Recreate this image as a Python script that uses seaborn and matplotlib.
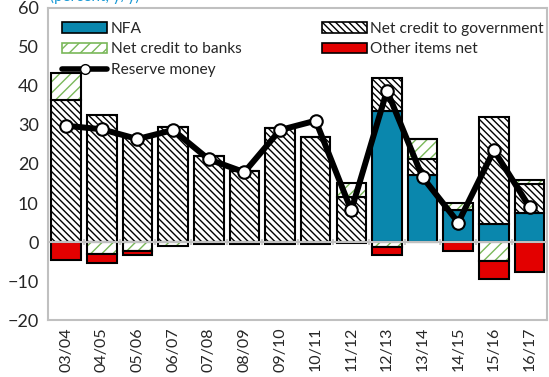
import numpy as np
import pandas as pd
import matplotlib
matplotlib.use("Agg")
import matplotlib.pyplot as plt
import seaborn as sns
from matplotlib.patches import Patch
from matplotlib.lines import Line2D

# ------------------------------------------
# DATA
# ------------------------------------------
years = ["03/04", "04/05", "05/06", "06/07", "07/08", "08/09", "09/10",
         "10/11", "11/12", "12/13", "13/14", "14/15", "15/16", "16/17"]

nfa = [0, 0, 0, 0, 0, 0, 0, 0, 0, 33.5, 17.2, 8.3, 4.5, 7.4]
credit_gov = [36.4, 32.6, 27.0, 29.6, 22.0, 18.1, 29.2, 27.0, 11.5, 8.5, 4.2, 0, 27.6, 7.6]
credit_banks = [6.9, -3.1, -2.2, -1.0, 0, 0, 0, 0, 3.7, -1.4, 5.1, 1.7, -4.9, 0.8]
other_items = [-4.5, -2.2, -1.1, 0, -0.6, -0.6, -0.5, -0.6, -0.3, -1.8, 0, -2.3, -4.7, -7.8]
reserve_money = [29.8, 28.9, 26.4, 28.7, 21.2, 17.9, 28.7, 31.1, 8.1, 38.8, 16.6, 5.0, 23.5, 9.0]

NFA_COLOR = "#0a87ad"
RED = "#e30000"
GREEN = "#7ab85a"
GRAY = "#c0c0c0"

# ------------------------------------------
# STACKING (positives up, negatives down)
# ------------------------------------------
layers = [np.array(nfa, float), np.array(credit_gov, float),
          np.array(credit_banks, float), np.array(other_items, float)]
pos_base = np.zeros(len(years))
neg_base = np.zeros(len(years))
bottoms = []
for vals in layers:
    b = np.where(vals >= 0, pos_base, neg_base)
    bottoms.append(b)
    pos_base = pos_base + np.clip(vals, 0, None)
    neg_base = neg_base + np.clip(vals, None, 0)

sns.set_style("white")
plt.rcParams["font.family"] = ["Lato", "DejaVu Sans"]
plt.rcParams["hatch.linewidth"] = 1.0

fig, ax = plt.subplots(figsize=(5.49, 3.77), dpi=100)
fig.subplots_adjust(left=0.088, right=0.997, top=0.979, bottom=0.151)

W = 0.83
GOV_HATCH = "\\" * 5
BANK_HATCH = "///"
styles = [
    dict(color=NFA_COLOR, hatch=None, hatch_color=None),
    dict(color="white", hatch=GOV_HATCH, hatch_color="black"),
    dict(color="white", hatch=BANK_HATCH, hatch_color=GREEN),
    dict(color=RED, hatch=None, hatch_color=None),
]
for vals, b, st in zip(layers, bottoms, styles):
    df = pd.DataFrame({"year": years, "val": vals})
    if st["hatch"]:
        # hatch drawn in its own colour, then a black outline on top
        sns.barplot(data=df, x="year", y="val", bottom=b, width=W, ax=ax,
                    color=st["color"], hatch=st["hatch"],
                    edgecolor=st["hatch_color"], linewidth=0, errorbar=None,
                    saturation=1)
        sns.barplot(data=df, x="year", y="val", bottom=b, width=W, ax=ax,
                    color="black", fill=False, edgecolor="black",
                    linewidth=1.5, errorbar=None)
    else:
        sns.barplot(data=df, x="year", y="val", bottom=b, width=W, ax=ax,
                    color=st["color"], edgecolor="black", linewidth=1.5,
                    errorbar=None, saturation=1)

# zero line with category separators
ax.axhline(0, color=GRAY, lw=1.5, zorder=1.5)
sep = np.arange(len(years) + 1) - 0.5
ax.vlines(sep, -0.7, 0.7, color=GRAY, lw=1.2, zorder=1.5)

# reserve money line
rm = pd.DataFrame({"year": years, "rm": reserve_money})
sns.lineplot(data=rm, x="year", y="rm", ax=ax, color="black", lw=4.3,
             marker="o", markersize=9, markerfacecolor="white",
             markeredgecolor="black", markeredgewidth=1.5, sort=False, zorder=5)

ax.set_xlim(-0.5, len(years) - 0.5)
ax.set_ylim(-20, 60)
ax.set_yticks(range(-20, 61, 10))
ax.set_xlabel("")
ax.set_ylabel("")
ax.tick_params(axis="y", labelsize=13, direction="in", length=4, color=GRAY,
               width=1.2, pad=7)
ax.tick_params(axis="x", labelsize=11.5, rotation=90, length=0, pad=5)
for s in ax.spines.values():
    s.set_visible(True)
    s.set_color(GRAY)
    s.set_linewidth(1.5)

handles = [
    Patch(facecolor=NFA_COLOR, edgecolor="black", lw=1.2),
    Patch(facecolor="white", edgecolor=GREEN, hatch=BANK_HATCH, lw=1.2),
    Line2D([], [], color="black", lw=4, marker="o", markersize=7,
           markerfacecolor="white", markeredgecolor="black"),
    Patch(facecolor="white", edgecolor="black", hatch=GOV_HATCH, lw=1.2),
    Patch(facecolor=RED, edgecolor="black", lw=1.2),
]
labels = ["NFA", "Net credit to banks", "Reserve money",
          "Net credit to government", "Other items net"]
ax.legend(handles, labels, ncol=2, loc="upper left", frameon=False,
          fontsize=11.2, handlelength=2.9, handleheight=0.7, handletextpad=0.2,
          columnspacing=5.2, labelspacing=0.42, borderaxespad=0.5,
          bbox_to_anchor=(0.0, 1.0))

fig.text(140 / 549, 0.997, "(percent, y/y)", color="#1a9ad6", fontsize=11,
         ha="right", va="baseline")

fig.savefig("out.png", dpi=100)
